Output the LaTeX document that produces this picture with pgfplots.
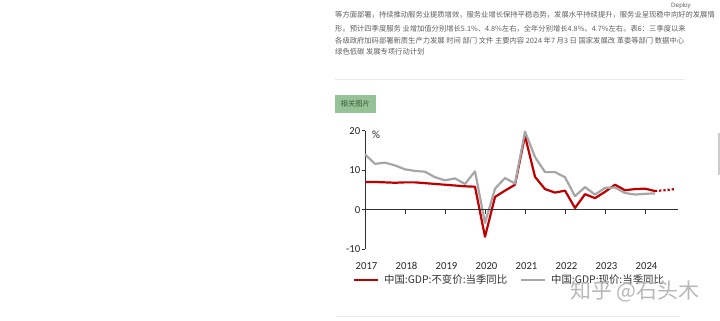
\documentclass[border=0pt]{standalone}
\usepackage{fontspec}
\setmainfont{Carlito}
\newfontfamily\cjk{Noto Sans CJK SC}
\newfontfamily\ui{Liberation Sans}
\usepackage{pgfplots}
\usepackage{pgfplotstable}
\pgfplotsset{compat=1.18}
\definecolor{gdpred}{RGB}{192,0,0}
\definecolor{gdpgray}{RGB}{166,166,166}
\definecolor{txtgray}{RGB}{95,95,95}
\definecolor{btngreen}{RGB}{150,195,150}
\definecolor{btntext}{RGB}{60,90,60}
\definecolor{axisgray}{RGB}{50,50,50}

\pgfplotstableread{
k v
0 7.0
1 7.0
2 6.9
3 6.8
4 6.9
5 6.9
6 6.7
7 6.5
8 6.3
9 6.1
10 5.9
11 5.8
12 -6.9
13 3.2
14 4.8
15 6.3
16 18.7
17 8.3
18 5.2
19 4.3
20 4.8
21 0.4
22 3.9
23 2.9
24 4.5
25 6.3
26 4.9
27 5.2
28 5.3
29 4.7
}\realtab

\pgfplotstableread{
k v
29 4.7
30 4.9
31 5.2
}\realfc

\pgfplotstableread{
k v
0 14.0
1 11.6
2 11.9
3 11.2
4 10.2
5 9.8
6 9.6
7 8.2
8 7.4
9 7.9
10 6.5
11 9.7
12 -3.4
13 5.3
14 8.0
15 6.6
16 19.8
17 13.3
18 9.5
19 9.5
20 8.2
21 3.4
22 5.7
23 3.8
24 5.5
25 5.6
26 4.2
27 3.8
28 4.0
29 4.1
}\nomtab

\begin{document}
\begin{tikzpicture}
\path[use as bounding box, fill=white] (0,0) rectangle (720bp,321bp);

% article text
\begin{scope}[every node/.style={anchor=west, inner sep=0pt, text=txtgray, font=\cjk\fontsize{7.3bp}{9bp}\selectfont}]
\node at (335bp,306bp) {等方面部署，持续推动服务业提质增效，服务业增长保持平稳态势，发展水平持续提升，服务业呈现稳中向好的发展情};
\node at (335bp,292bp) {形。预计四季度服务 业增加值分别增长5.1\%、4.8\%左右，全年分别增长4.8\%、4.7\%左右。表6：三季度以来};
\node at (335bp,280.7bp) {各级政府加码部署新质生产力发展 时间 部门 文件 主要内容 2024 年7 月3 日 国家发展改 革委等部门 数据中心};
\node at (335bp,269.7bp) {绿色低碳 发展专项行动计划};
\end{scope}
\fill[white] (0bp,309.5bp) rectangle (720bp,321bp);
\node[anchor=east, inner sep=0pt, text=txtgray, font=\ui\fontsize{6.3bp}{7bp}\selectfont] at (691bp,315.3bp) {Deploy};

% separators
\draw[color=black!8, line width=0.8bp] (335bp,241.5bp) -- (685bp,241.5bp);
\draw[color=black!8, line width=0.8bp] (336bp,5bp) -- (680bp,5bp);
\fill[black!20] (717.5bp,146bp) rectangle (720bp,188.3bp);

% button
\fill[btngreen] (335bp,208.3bp) rectangle (375.7bp,226bp);
\node[inner sep=0pt, text=btntext, font=\cjk\fontsize{7.3bp}{9bp}\selectfont] at (355.3bp,217.2bp) {相关图片};

\begin{axis}[
  at={(365bp,72bp)}, anchor=south west,
  scale only axis, width=312.7bp, height=118.3bp,
  xmin=0, xmax=31.27, ymin=-10, ymax=20,
  axis y line=left, axis x line=bottom,
  y axis line style={-, draw=axisgray, line width=0.9bp},
  x axis line style={draw=none},
  x tick style={draw=none},
  y tick style={draw=axisgray, line width=0.9bp},
  tick align=outside, major tick length=3.5bp,
  xtick={0,4,8,12,16,20,24,28},
  xticklabels={2017,2018,2019,2020,2021,2022,2023,2024},
  ytick={-10,0,10,20},
  /pgf/number format/assume math mode=true,
  ticklabel style={font=\fontsize{10.7bp}{12bp}\selectfont, text=black!85},
  xticklabel style={anchor=center, inner sep=0pt, yshift=-13.7bp, xshift=1.5bp},
  yticklabel style={anchor=east, inner sep=0pt, xshift=-1bp},
  clip=false,
  legend columns=2,
  legend style={at={(-0.0393,-0.262)}, anchor=west, draw=none, fill=none,
    inner sep=0pt, nodes={inner sep=0pt},
    font=\cjk\fontsize{10.4bp}{12bp}\selectfont, text=black!80,
    /tikz/every odd column/.append style={column sep=5bp},
    /tikz/every even column/.append style={column sep=12.7bp}},
  legend image code/.code={\draw[#1] (0bp,0bp) -- (24bp,0bp);},
]
\addplot[gdpred, line width=2.2bp, line join=round] table[x=k,y=v] {\realtab};
\addlegendentry{中国:GDP:不变价:当季同比}
\addplot[gdpgray, line width=2.2bp, line join=round] table[x=k,y=v] {\nomtab};
\addlegendentry{中国:GDP:现价:当季同比}
\addplot[gdpred, line width=2.2bp, dotted, forget plot] table[x=k,y=v] {\realfc};
\draw[axisgray, line width=0.9bp] (axis cs:0,0) -- (axis cs:31.27,0);
\draw[axisgray, line width=0.9bp] (axis cs:4,0) -- ([yshift=-4.5bp]axis cs:4,0);
\draw[axisgray, line width=0.9bp] (axis cs:8,0) -- ([yshift=-4.5bp]axis cs:8,0);
\draw[axisgray, line width=0.9bp] (axis cs:12,0) -- ([yshift=-4.5bp]axis cs:12,0);
\draw[axisgray, line width=0.9bp] (axis cs:16,0) -- ([yshift=-4.5bp]axis cs:16,0);
\draw[axisgray, line width=0.9bp] (axis cs:20,0) -- ([yshift=-4.5bp]axis cs:20,0);
\draw[axisgray, line width=0.9bp] (axis cs:24,0) -- ([yshift=-4.5bp]axis cs:24,0);
\draw[axisgray, line width=0.9bp] (axis cs:28,0) -- ([yshift=-4.5bp]axis cs:28,0);
\end{axis}
\node[anchor=center, inner sep=0pt, font=\fontsize{11bp}{12bp}\selectfont, text=black!85] at (376bp,186.5bp) {\%};

% watermark
\node[inner sep=0pt, text=black!28, font=\cjk\fontsize{21bp}{24bp}\selectfont] at (635bp,30bp) {知乎 @石头木};
\end{tikzpicture}
\end{document}
